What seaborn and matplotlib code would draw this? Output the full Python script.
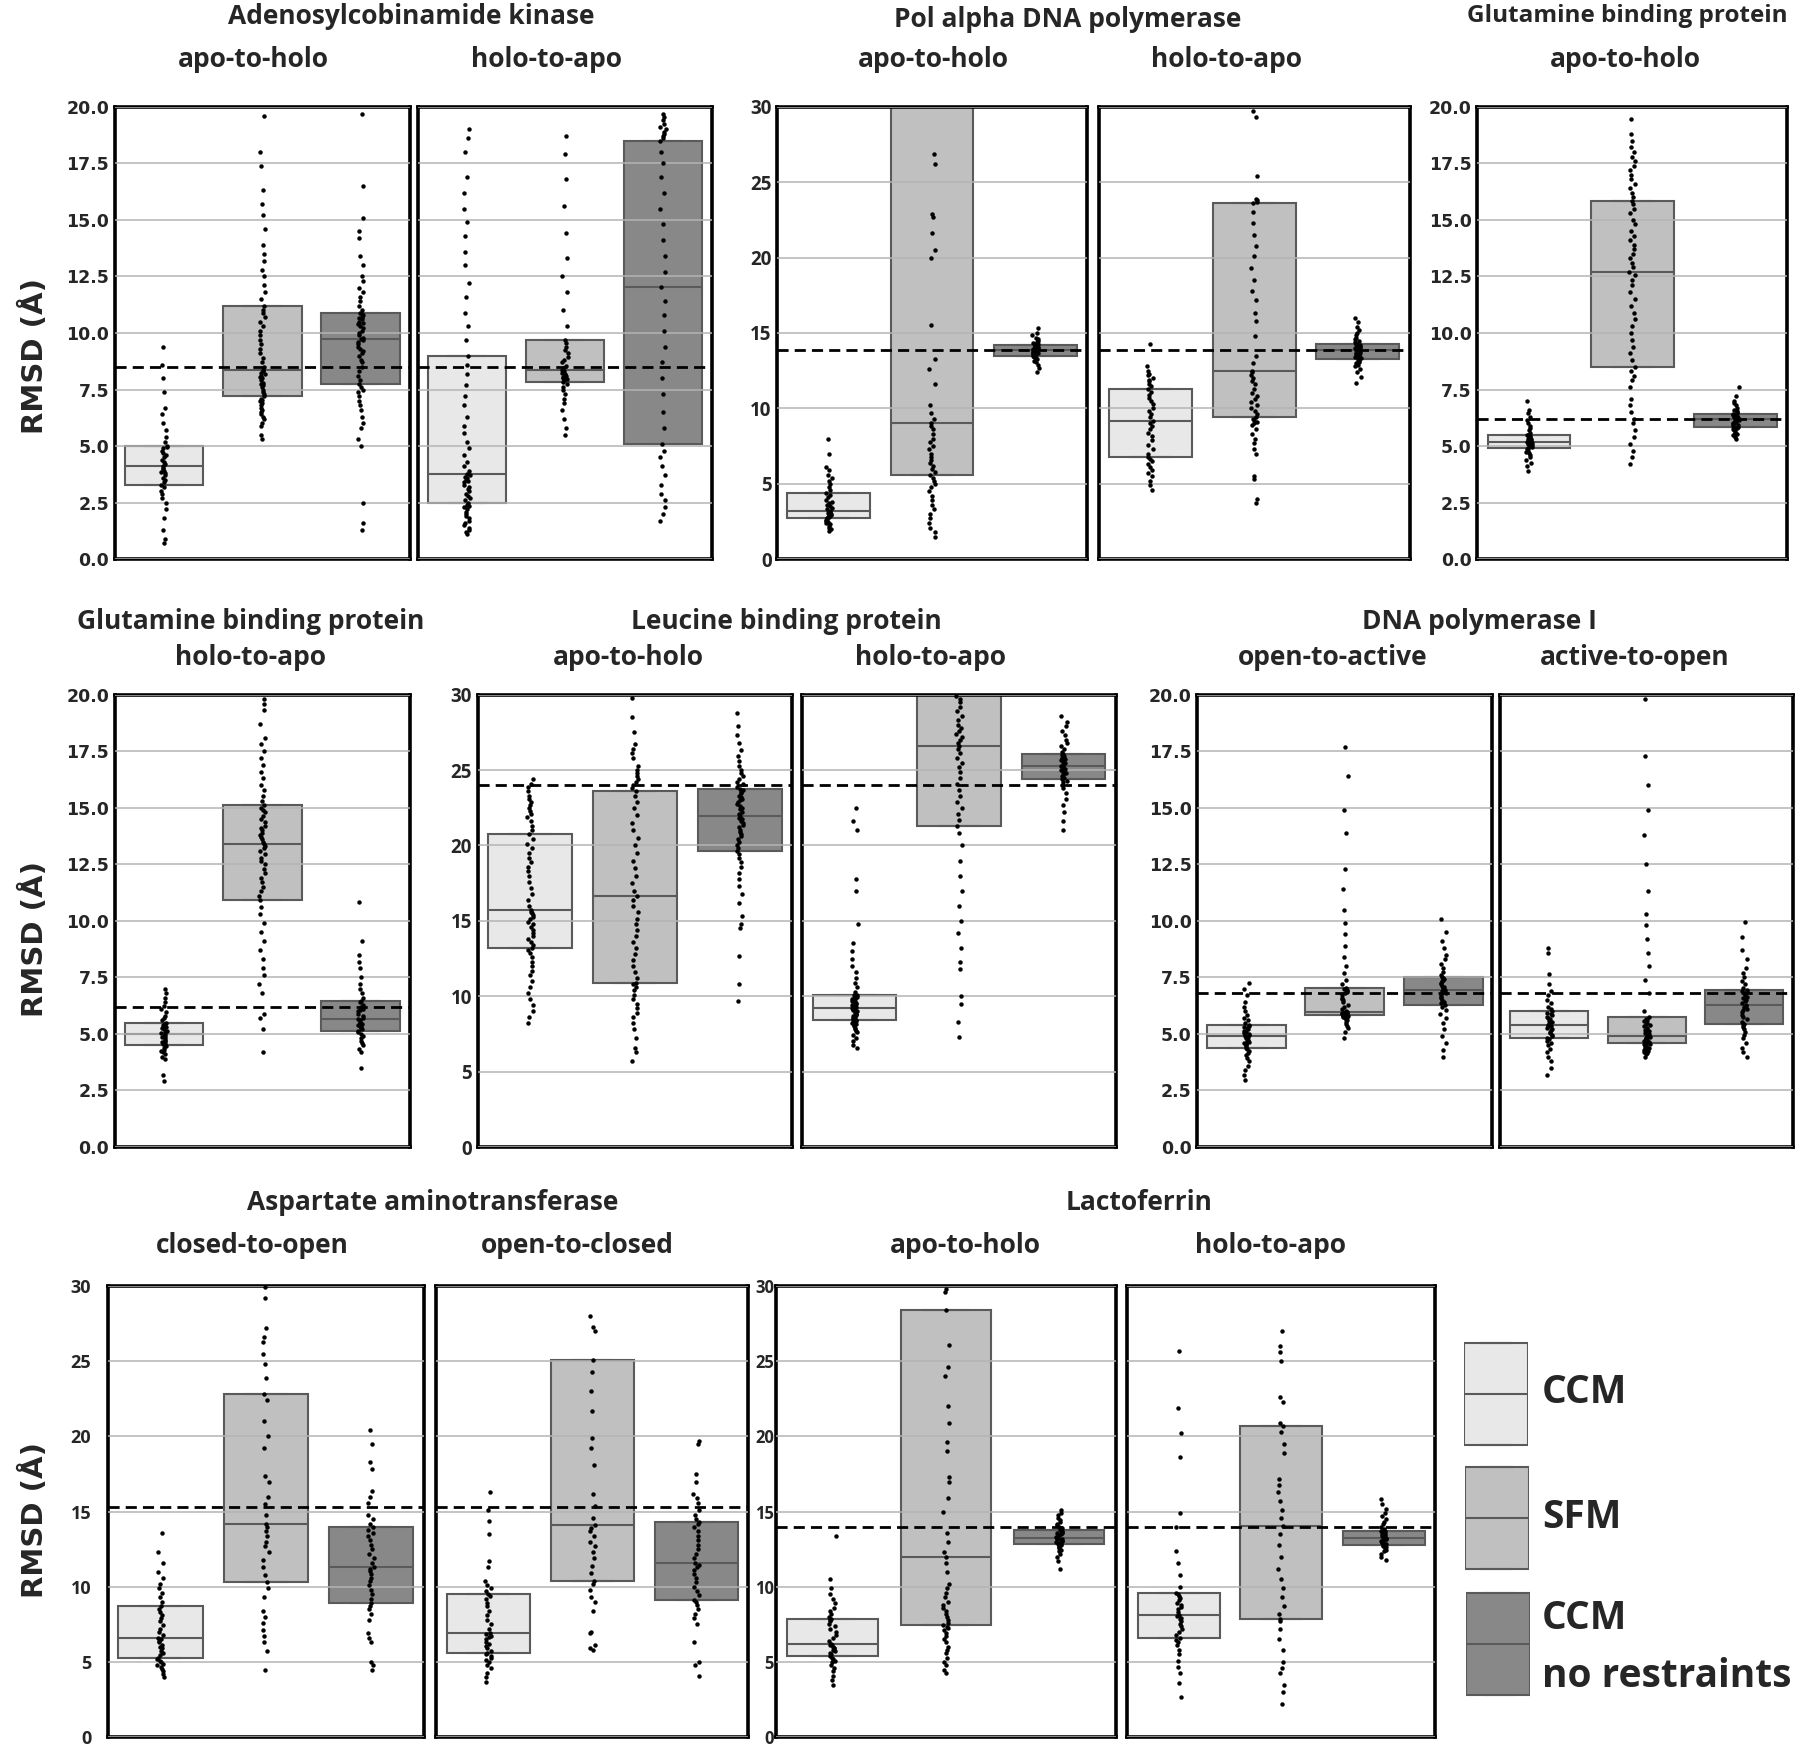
import numpy as np
import pandas as pd
import matplotlib
matplotlib.use("Agg")
import matplotlib.pyplot as plt
import seaborn as sns

# ---------------- DATA (RMSD in Angstrom) ----------------
# Adenosylcobinamide kinase, apo-to-holo
ak_ah_ccm = [0.7, 0.9, 1.3, 1.8, 2.2, 2.5, 2.7, 2.9, 3.0, 3.2, 3.3, 3.4, 3.5, 3.6, 3.7, 3.8, 3.85, 3.9, 4.0, 4.05,
             4.1, 4.2, 4.3, 4.4, 4.5, 4.6, 4.7, 4.8, 4.9, 4.95, 5.0, 5.2, 5.4, 5.7, 6.0, 6.4, 6.7, 7.4, 8.0, 8.6, 9.4]
ak_ah_sfm = [5.3, 5.5, 5.9, 6.0, 6.2, 6.3, 6.4, 6.5, 6.6, 6.7, 6.8, 6.9, 7.0, 7.05, 7.1, 7.2,
             7.3, 7.4, 7.5, 7.6, 7.7, 7.75, 7.8, 7.9, 8.0, 8.05, 8.1, 8.2, 8.25, 8.3, 8.35,
             8.5, 8.7, 8.9, 9.1, 9.3, 9.5, 9.7, 9.9, 10.1, 10.3, 10.5, 10.7, 10.9, 11.0, 11.2,
             11.5, 11.8, 12.1, 12.5, 12.8, 13.2, 13.5, 13.9, 14.6, 15.2, 15.7, 16.3, 17.4, 18.0, 19.6]
ak_ah_nr = [1.3, 1.6, 2.5, 5.0, 5.3, 5.8, 6.0, 6.3, 6.6, 6.8, 7.0, 7.2, 7.4, 7.5, 7.6, 7.75,
            7.9, 8.1, 8.3, 8.5, 8.7, 8.8, 9.0, 9.1, 9.2, 9.3, 9.4, 9.5, 9.6, 9.7, 9.75,
            9.8, 9.9, 10.0, 10.1, 10.2, 10.3, 10.4, 10.45, 10.5, 10.6, 10.65, 10.7, 10.8, 10.85, 10.9,
            11.0, 11.2, 11.4, 11.6, 11.8, 12.0, 12.3, 12.5, 13.0, 13.4, 14.2, 14.5, 15.1, 16.5, 19.7]
# Adenosylcobinamide kinase, holo-to-apo
ak_ha_ccm = [1.1, 1.2, 1.3, 1.4, 1.5, 1.6, 1.7, 1.8, 1.9, 2.0, 2.1, 2.2, 2.3, 2.35, 2.4, 2.5,
             2.6, 2.7, 2.8, 2.9, 3.0, 3.1, 3.2, 3.3, 3.4, 3.45, 3.5, 3.6, 3.65, 3.7, 3.75,
             3.9, 4.1, 4.3, 4.6, 4.9, 5.2, 5.6, 5.9, 6.3, 6.8, 7.2, 7.7, 8.2, 8.6, 9.0,
             9.7, 10.3, 10.9, 11.6, 12.2, 13.0, 13.6, 14.3, 14.9, 15.5, 16.2, 16.9, 18.0, 18.6, 19.0]
ak_ha_sfm = [5.5, 5.8, 6.2, 6.6, 6.9, 7.1, 7.3, 7.5, 7.6, 7.75, 7.85, 7.9, 7.95, 8.0, 8.05, 8.1, 8.15, 8.2, 8.25, 8.3,
             8.35, 8.45, 8.55, 8.7, 8.8, 8.95, 9.1, 9.25, 9.4, 9.55, 9.7, 10.3, 11.0, 11.8, 12.5, 13.3, 14.4, 15.6,
             16.8, 17.9, 18.7]
ak_ha_nr = [1.7, 2.0, 2.3, 2.6, 2.9, 3.3, 3.7, 4.1, 4.5, 4.8, 5.1, 5.8, 6.5, 7.3, 8.0, 8.7, 9.4, 10.1, 10.8, 11.4,
            12.05, 12.7, 13.4, 14.1, 14.8, 15.5, 16.2, 16.9, 17.5, 18.0, 18.5, 18.6, 18.7, 18.8, 18.9, 19.0, 19.1,
            19.25, 19.4, 19.55, 19.7]
# Pol alpha DNA polymerase, apo-to-holo
pa_ah_ccm = [1.9, 2.0, 2.1, 2.2, 2.3, 2.4, 2.45, 2.5, 2.55, 2.6, 2.7, 2.75, 2.8, 2.85, 2.9, 2.95, 3.0, 3.05, 3.1, 3.15,
             3.2, 3.3, 3.4, 3.5, 3.6, 3.7, 3.8, 3.9, 4.1, 4.25, 4.4, 4.6, 4.8, 5.0, 5.2, 5.4, 5.6, 5.9, 6.1, 7.0, 8.0]
pa_ah_sfm = [1.5, 1.8, 2.1, 2.4, 2.7, 3.0, 3.3, 3.6, 3.9, 4.2, 4.5, 4.8, 5.0, 5.2, 5.4, 5.6,
             5.8, 6.0, 6.2, 6.4, 6.6, 6.8, 7.0, 7.3, 7.5, 7.8, 8.0, 8.3, 8.6, 8.8, 9.0,
             9.3, 9.7, 10.2, 11.6, 12.6, 13.3, 15.5, 20.0, 20.5, 21.6, 22.7, 22.9, 26.2, 26.9, 32.0,
             32.5, 33.0, 33.5, 34.0, 34.5, 35.0, 35.5, 36.0, 36.5, 37.0, 37.5, 38.0, 38.5, 39.0, 40.0]
pa_ah_nr = [12.4, 12.7, 12.9, 13.05, 13.15, 13.25, 13.3, 13.35, 13.4, 13.45, 13.5, 13.55, 13.6, 13.63, 13.66, 13.7,
            13.75, 13.8, 13.83, 13.86, 13.9, 13.93, 13.96, 14.0, 14.03, 14.06, 14.1, 14.13, 14.16, 14.18, 14.2,
            14.25, 14.3, 14.35, 14.4, 14.5, 14.6, 14.7, 14.85, 15.0, 15.3]
# Pol alpha DNA polymerase, holo-to-apo
pa_ha_ccm = [4.6, 4.9, 5.2, 5.5, 5.7, 5.9, 6.1, 6.3, 6.5, 6.65, 6.8, 7.0, 7.3, 7.6, 7.9, 8.2, 8.4, 8.6, 8.8, 9.0,
             9.15, 9.4, 9.6, 9.8, 10.0, 10.3, 10.5, 10.7, 10.9, 11.1, 11.3, 11.5, 11.6, 11.8, 11.9, 12.0, 12.2,
             12.3, 12.5, 12.8, 14.3]
pa_ha_sfm = [3.7, 4.0, 5.3, 5.5, 7.0, 7.3, 7.7, 8.0, 8.3, 8.6, 8.9, 9.0, 9.1, 9.2, 9.3, 9.4,
             9.6, 9.8, 10.0, 10.2, 10.4, 10.6, 10.8, 11.0, 11.3, 11.6, 11.8, 12.0, 12.2, 12.4, 12.5,
             13.0, 13.5, 14.8, 15.8, 16.3, 17.2, 17.8, 18.5, 19.3, 20.1, 20.8, 21.5, 22.3, 23.0, 23.6,
             23.7, 23.8, 23.9, 25.4, 29.3, 29.7, 31.0, 32.0, 33.0, 34.0, 35.0, 36.0, 37.0, 38.0, 39.0]
pa_ha_nr = [11.7, 12.1, 12.4, 12.6, 12.8, 12.9, 13.0, 13.1, 13.15, 13.2, 13.3, 13.35, 13.4, 13.45, 13.5, 13.55,
            13.6, 13.65, 13.7, 13.78, 13.85, 13.9, 13.95, 14.0, 14.05, 14.1, 14.15, 14.2, 14.23, 14.27, 14.3,
            14.4, 14.5, 14.6, 14.7, 14.85, 15.0, 15.2, 15.4, 15.7, 16.0]
# Glutamine binding protein, apo-to-holo
gb_ah_ccm = [3.9, 4.1, 4.25, 4.4, 4.5, 4.6, 4.7, 4.75, 4.8, 4.85, 4.9, 4.93, 4.96, 5.0, 5.03, 5.06, 5.1, 5.13, 5.15,
             5.18, 5.2, 5.23, 5.26, 5.3, 5.33, 5.36, 5.4, 5.43, 5.46, 5.48, 5.5, 5.6, 5.7, 5.8, 5.9, 6.0, 6.15,
             6.3, 6.45, 6.6, 7.0]
gb_ah_sfm = [4.2, 4.5, 4.8, 5.1, 5.4, 5.7, 6.0, 6.2, 6.5, 6.8, 7.1, 7.6, 7.9, 8.1, 8.3, 8.5,
             8.8, 9.1, 9.4, 9.7, 10.0, 10.3, 10.6, 10.9, 11.2, 11.5, 11.8, 12.1, 12.35, 12.55, 12.7,
             12.9, 13.1, 13.3, 13.5, 13.7, 13.9, 14.1, 14.3, 14.5, 14.8, 15.0, 15.3, 15.5, 15.7, 15.85,
             16.0, 16.2, 16.4, 16.6, 16.8, 17.0, 17.2, 17.4, 17.6, 17.8, 18.0, 18.2, 18.5, 18.8, 19.45]
gb_ah_nr = [5.3, 5.4, 5.5, 5.55, 5.6, 5.65, 5.7, 5.75, 5.78, 5.82, 5.85, 5.9, 5.93, 5.96, 6.0, 6.03, 6.07, 6.1,
            6.13, 6.17, 6.2, 6.22, 6.24, 6.26, 6.28, 6.3, 6.32, 6.34, 6.36, 6.38, 6.4, 6.45, 6.5, 6.55, 6.6,
            6.7, 6.8, 6.9, 7.0, 7.2, 7.6]
# Glutamine binding protein, holo-to-apo
gb_ha_ccm = [2.9, 3.2, 3.9, 4.0, 4.1, 4.2, 4.25, 4.3, 4.4, 4.45, 4.5, 4.55, 4.6, 4.65, 4.7, 4.75, 4.8, 4.85, 4.9,
             4.93, 5.0, 5.05, 5.1, 5.15, 5.2, 5.25, 5.3, 5.35, 5.4, 5.45, 5.5, 5.6, 5.7, 5.8, 5.95, 6.1, 6.25,
             6.4, 6.6, 6.8, 7.0]
gb_ha_sfm = [4.2, 5.2, 5.7, 5.9, 6.8, 7.2, 7.6, 7.9, 8.3, 8.7, 9.1, 9.5, 9.9, 10.3, 10.6, 10.9,
             11.1, 11.3, 11.5, 11.7, 11.9, 12.1, 12.3, 12.5, 12.65, 12.8, 12.95, 13.1, 13.2, 13.3, 13.4,
             13.5, 13.6, 13.7, 13.8, 13.9, 14.0, 14.1, 14.2, 14.35, 14.5, 14.65, 14.8, 14.9, 15.0, 15.1,
             15.3, 15.5, 15.8, 16.0, 16.3, 16.6, 16.9, 17.2, 17.5, 17.8, 18.1, 18.7, 19.3, 19.6, 19.8]
gb_ha_nr = [3.5, 4.2, 4.35, 4.5, 4.6, 4.7, 4.8, 4.9, 5.0, 5.1, 5.15, 5.2, 5.25, 5.3, 5.35, 5.4, 5.45, 5.5, 5.55,
            5.6, 5.65, 5.7, 5.8, 5.9, 6.0, 6.05, 6.1, 6.2, 6.3, 6.4, 6.45, 6.6, 6.8, 7.0, 7.2, 7.5, 7.9, 8.2,
            8.5, 9.1, 10.85]
# Leucine binding protein, apo-to-holo
lb_ah_ccm = [8.2, 8.6, 9.0, 9.4, 9.8, 10.2, 10.6, 11.0, 11.4, 11.7, 12.0, 12.3, 12.6, 12.85, 13.05, 13.2,
             13.4, 13.6, 13.8, 14.0, 14.2, 14.4, 14.6, 14.8, 14.95, 15.1, 15.25, 15.4, 15.5, 15.6, 15.7,
             16.0, 16.4, 16.8, 17.2, 17.6, 18.0, 18.3, 18.6, 18.9, 19.2, 19.5, 19.8, 20.1, 20.4, 20.75,
             21.0, 21.3, 21.6, 21.9, 22.1, 22.3, 22.5, 22.7, 22.9, 23.1, 23.3, 23.6, 23.9, 24.1, 24.4]
lb_ah_sfm = [5.7, 6.3, 6.6, 7.2, 7.8, 8.2, 8.6, 8.9, 9.2, 9.5, 9.8, 10.1, 10.4, 10.6, 10.8, 10.9,
             11.2, 11.6, 12.0, 12.4, 12.8, 13.2, 13.6, 14.0, 14.4, 14.8, 15.1, 15.6, 16.0, 16.4, 16.65,
             17.0, 17.5, 18.0, 18.5, 19.0, 19.5, 20.0, 20.5, 21.0, 21.5, 22.0, 22.5, 22.9, 23.3, 23.6,
             23.8, 24.0, 24.2, 24.4, 24.6, 24.8, 25.0, 25.3, 25.8, 26.1, 26.4, 26.7, 27.5, 28.5, 29.8]
lb_ah_nr = [9.7, 10.8, 12.65, 14.5, 14.8, 15.3, 16.2, 16.8, 17.3, 17.8, 18.2, 18.6, 18.9, 19.2, 19.45, 19.65,
            19.85, 20.05, 20.25, 20.45, 20.6, 20.75, 20.9, 21.05, 21.2, 21.35, 21.5, 21.65, 21.75, 21.85, 21.95,
            22.1, 22.25, 22.4, 22.5, 22.6, 22.75, 22.9, 23.0, 23.1, 23.2, 23.3, 23.45, 23.55, 23.65, 23.75,
            23.9, 24.05, 24.2, 24.4, 24.6, 24.8, 25.0, 25.3, 25.6, 25.9, 26.3, 26.8, 27.3, 27.9, 28.8]
# Leucine binding protein, holo-to-apo
lb_ha_ccm = [6.6, 6.8, 7.0, 7.2, 7.4, 7.6, 7.7, 7.8, 7.9, 8.0, 8.1, 8.15, 8.2, 8.3, 8.35, 8.4,
             8.45, 8.5, 8.55, 8.6, 8.7, 8.75, 8.8, 8.85, 8.9, 9.0, 9.05, 9.1, 9.15, 9.2, 9.25,
             9.3, 9.35, 9.4, 9.5, 9.55, 9.6, 9.65, 9.7, 9.8, 9.85, 9.9, 9.95, 10.0, 10.05, 10.1,
             10.3, 10.6, 10.9, 11.2, 11.6, 12.0, 12.5, 13.0, 13.5, 14.8, 17.0, 17.8, 21.0, 21.6, 22.5]
lb_ha_sfm = [7.3, 8.3, 9.5, 10.0, 11.8, 12.3, 13.2, 14.2, 15.0, 16.0, 17.0, 18.0, 19.0, 20.0, 20.8, 21.3,
             21.7, 22.1, 22.5, 22.9, 23.3, 23.7, 24.1, 24.5, 24.9, 25.2, 25.5, 25.8, 26.1, 26.4, 26.6,
             26.8, 27.0, 27.2, 27.4, 27.6, 27.8, 28.0, 28.3, 28.6, 28.9, 29.2, 29.5, 29.7, 29.9, 31.0,
             31.5, 32.0, 32.5, 33.0, 33.5, 34.0, 34.5, 35.0, 35.5, 36.0, 36.5, 37.0, 37.5, 38.0, 39.0]
lb_ha_nr = [21.0, 21.6, 22.2, 22.7, 23.1, 23.5, 23.8, 24.0, 24.2, 24.3, 24.4, 24.5, 24.6, 24.7, 24.8, 24.9, 25.0,
            25.05, 25.1, 25.2, 25.25, 25.35, 25.45, 25.55, 25.65, 25.75, 25.8, 25.9, 25.95, 26.0, 26.05, 26.2,
            26.4, 26.6, 26.8, 27.0, 27.3, 27.6, 27.9, 28.2, 28.6]
# DNA polymerase I, open-to-active
dp_oa_ccm = [2.95, 3.2, 3.4, 3.6, 3.8, 3.95, 4.05, 4.15, 4.25, 4.33, 4.4, 4.45, 4.5, 4.55, 4.6, 4.65, 4.7, 4.75,
             4.8, 4.85, 4.9, 4.95, 5.0, 5.05, 5.1, 5.15, 5.2, 5.25, 5.3, 5.35, 5.4, 5.5, 5.6, 5.7, 5.85, 6.0,
             6.2, 6.4, 6.7, 7.0, 7.25]
dp_oa_sfm = [4.8, 5.1, 5.25, 5.35, 5.45, 5.55, 5.6, 5.65, 5.7, 5.73, 5.76, 5.78, 5.8, 5.82, 5.84, 5.85,
             5.86, 5.865, 5.87, 5.875, 5.88, 5.885, 5.89, 5.9, 5.905, 5.91, 5.92, 5.93, 5.94, 5.945, 5.95,
             6.0, 6.1, 6.2, 6.3, 6.4, 6.5, 6.55, 6.6, 6.7, 6.8, 6.85, 6.9, 6.95, 7.0, 7.05,
             7.2, 7.4, 7.7, 8.0, 8.4, 8.9, 9.4, 9.9, 10.5, 11.4, 12.3, 13.9, 14.9, 16.4, 17.7]
dp_oa_nr = [4.0, 4.3, 4.6, 4.9, 5.2, 5.5, 5.7, 5.9, 6.05, 6.17, 6.27, 6.35, 6.42, 6.5, 6.57, 6.65, 6.72, 6.8, 6.85,
            6.9, 6.96, 7.02, 7.08, 7.14, 7.2, 7.26, 7.32, 7.38, 7.42, 7.46, 7.5, 7.6, 7.75, 7.9, 8.1, 8.3, 8.5,
            8.8, 9.1, 9.5, 10.1]
# DNA polymerase I, active-to-open
dp_ao_ccm = [3.2, 3.5, 3.8, 4.0, 4.2, 4.35, 4.5, 4.6, 4.7, 4.77, 4.83, 4.9, 4.97, 5.03, 5.1, 5.16, 5.22, 5.28,
             5.33, 5.37, 5.4, 5.46, 5.52, 5.58, 5.64, 5.7, 5.76, 5.82, 5.88, 5.94, 6.0, 6.1, 6.2, 6.35, 6.5,
             6.7, 6.9, 7.2, 7.67, 8.6, 8.8]
dp_ao_sfm = [4.0, 4.1, 4.15, 4.2, 4.25, 4.3, 4.35, 4.38, 4.41, 4.44, 4.47, 4.5, 4.52, 4.54, 4.56, 4.58,
             4.61, 4.63, 4.65, 4.67, 4.7, 4.72, 4.74, 4.77, 4.79, 4.81, 4.84, 4.86, 4.88, 4.9, 4.93,
             4.98, 5.03, 5.08, 5.13, 5.18, 5.23, 5.28, 5.33, 5.38, 5.44, 5.5, 5.56, 5.62, 5.68, 5.75,
             6.0, 6.8, 7.4, 8.0, 8.6, 9.2, 9.8, 10.3, 11.3, 12.5, 13.8, 14.9, 16.0, 17.3, 19.8]
dp_ao_nr = [4.0, 4.2, 4.4, 4.6, 4.8, 4.95, 5.1, 5.2, 5.3, 5.38, 5.46, 5.55, 5.65, 5.75, 5.85, 5.95, 6.05, 6.12,
            6.19, 6.25, 6.3, 6.37, 6.44, 6.51, 6.58, 6.65, 6.72, 6.79, 6.85, 6.9, 6.94, 7.05, 7.2, 7.35, 7.5,
            7.7, 7.9, 8.3, 8.7, 9.3, 9.94]
# Aspartate aminotransferase, closed-to-open
aa_co_ccm = [4.0, 4.2, 4.4, 4.55, 4.7, 4.8, 4.9, 5.0, 5.1, 5.2, 5.3, 5.45, 5.6, 5.75, 5.9, 6.0, 6.15, 6.3, 6.4,
             6.5, 6.6, 6.8, 7.0, 7.2, 7.45, 7.7, 7.9, 8.1, 8.35, 8.55, 8.75, 9.0, 9.3, 9.6, 9.9, 10.2, 10.6,
             11.0, 11.6, 12.3, 13.6]
aa_co_sfm = [4.5, 5.7, 6.3, 6.7, 7.1, 7.6, 8.0, 8.4, 9.3, 9.9, 10.3, 10.8, 11.3, 11.8, 12.3, 12.7, 13.0, 13.4,
             13.7, 14.0, 14.2, 14.8, 15.5, 16.0, 17.0, 17.4, 19.2, 20.0, 21.0, 22.4, 22.8, 23.9, 24.8, 25.5,
             26.3, 26.6, 27.2, 29.2, 29.9, 31.0, 33.0]
aa_co_nr = [4.45, 4.8, 5.0, 6.3, 6.6, 6.9, 7.8, 8.2, 8.5, 8.7, 8.9, 9.2, 9.5, 9.8, 10.1, 10.4, 10.6, 10.85,
            11.05, 11.2, 11.35, 11.6, 11.9, 12.2, 12.5, 12.8, 13.1, 13.4, 13.6, 13.8, 13.95, 14.2, 14.5, 14.8,
            15.6, 16.0, 16.4, 17.8, 18.3, 19.5, 20.4]
# Aspartate aminotransferase, open-to-closed
aa_oc_ccm = [3.7, 4.0, 4.3, 4.6, 4.8, 5.0, 5.15, 5.3, 5.4, 5.5, 5.6, 5.75, 5.9, 6.05, 6.2, 6.35, 6.5, 6.65,
             6.75, 6.85, 6.95, 7.2, 7.5, 7.8, 8.1, 8.4, 8.7, 8.95, 9.2, 9.4, 9.5, 9.7, 9.9, 10.1, 10.4, 11.3,
             11.7, 13.5, 14.4, 15.1, 16.3]
aa_oc_sfm = [5.8, 5.9, 6.1, 6.9, 7.0, 8.4, 9.0, 9.3, 9.8, 10.2, 10.4, 10.9, 11.4, 11.9, 12.3, 12.7, 13.0, 13.4,
             13.7, 13.9, 14.1, 14.6, 15.4, 16.2, 18.1, 19.2, 19.9, 21.7, 23.0, 24.3, 25.1, 27.0, 27.3, 28.0,
             31.0, 32.0, 33.0, 34.0, 35.0, 36.0, 37.0]
aa_oc_nr = [4.1, 4.8, 5.0, 6.3, 7.5, 7.9, 8.2, 8.5, 8.8, 9.0, 9.15, 9.45, 9.75, 10.0, 10.3, 10.6, 10.85, 11.1,
            11.3, 11.45, 11.6, 11.9, 12.2, 12.5, 12.8, 13.1, 13.4, 13.7, 13.95, 14.15, 14.3, 14.5, 14.8, 15.1,
            15.6, 15.9, 16.2, 17.0, 17.5, 19.5, 19.7]
# Lactoferrin, apo-to-holo
lf_ah_ccm = [3.5, 3.8, 4.1, 4.4, 4.6, 4.8, 5.0, 5.1, 5.2, 5.3, 5.4, 5.5, 5.6, 5.7, 5.8, 5.9, 5.95, 6.0, 6.1,
             6.15, 6.2, 6.4, 6.6, 6.8, 7.0, 7.2, 7.4, 7.55, 7.7, 7.8, 7.86, 8.0, 8.2, 8.4, 8.6, 8.9, 9.2, 9.5,
             9.9, 10.5, 13.4]
lf_ah_sfm = [4.3, 4.5, 4.8, 5.0, 5.3, 5.6, 5.8, 6.0, 6.3, 6.5, 6.7, 6.9, 7.1, 7.25, 7.35, 7.45,
             7.6, 7.8, 8.0, 8.2, 8.4, 8.6, 8.8, 9.0, 9.3, 9.6, 9.9, 10.2, 11.0, 11.6, 11.95,
             12.3, 13.0, 13.6, 15.0, 15.9, 17.0, 17.3, 19.0, 19.6, 20.9, 22.0, 24.0, 24.6, 26.1, 28.4,
             29.6, 29.8, 31.0, 32.0, 33.0, 34.0, 35.0, 36.0, 37.0, 38.0, 39.0, 40.0, 41.0, 42.0, 43.0]
lf_ah_nr = [11.2, 11.7, 12.0, 12.2, 12.35, 12.45, 12.55, 12.65, 12.72, 12.78, 12.82, 12.87, 12.92, 12.97, 13.02,
            13.07, 13.11, 13.15, 13.19, 13.22, 13.25, 13.31, 13.37, 13.43, 13.49, 13.55, 13.61, 13.67, 13.72,
            13.76, 13.8, 13.9, 14.0, 14.1, 14.2, 14.3, 14.45, 14.6, 14.75, 14.9, 15.1]
# Lactoferrin, holo-to-apo
lf_ha_ccm = [2.7, 3.6, 4.3, 4.7, 5.1, 5.5, 5.8, 6.1, 6.3, 6.45, 6.6, 6.8, 7.0, 7.2, 7.4, 7.55, 7.7, 7.85, 7.95,
             8.05, 8.1, 8.3, 8.5, 8.65, 8.8, 8.95, 9.1, 9.25, 9.4, 9.5, 9.56, 10.0, 10.8, 11.6, 12.4, 14.0,
             14.9, 18.6, 20.2, 21.9, 25.7]
lf_ha_sfm = [2.2, 3.0, 3.5, 4.3, 4.6, 5.0, 5.8, 6.5, 7.2, 7.7, 7.86, 8.2, 8.7, 9.3, 9.9, 10.5, 11.2, 12.0, 12.8,
             13.5, 14.05, 14.6, 15.1, 15.7, 16.3, 16.8, 17.2, 18.9, 19.5, 20.3, 20.7, 20.9, 22.3, 22.6, 25.0,
             25.6, 26.0, 27.0, 31.0, 33.0, 35.0]
lf_ha_nr = [11.75, 12.0, 12.2, 12.35, 12.45, 12.55, 12.62, 12.68, 12.72, 12.75, 12.77, 12.82, 12.87, 12.92, 12.97,
            13.02, 13.07, 13.12, 13.17, 13.21, 13.25, 13.3, 13.35, 13.4, 13.45, 13.5, 13.55, 13.6, 13.65, 13.7,
            13.74, 13.85, 14.0, 14.15, 14.3, 14.5, 14.7, 14.9, 15.2, 15.5, 15.87]

# reference (dashed) RMSD for each protein pair
ref_adenosyl = 8.5
ref_polalpha = 13.9
ref_glutamine = 6.2
ref_leucine = 24.0
ref_dnapol = 6.8
ref_aspartate = 15.3
ref_lacto = 14.0

methods = ["CCM", "SFM", "CCM\nno restraints"]
group_titles = ["Adenosylcobinamide kinase", "Pol alpha DNA polymerase", "Glutamine binding protein",
                "Glutamine binding protein", "Leucine binding protein", "DNA polymerase I",
                "Aspartate aminotransferase", "Lactoferrin"]

# ---------------- STYLE / LAYOUT ----------------
sns.set_style("white")
plt.rcParams["font.family"] = ["Open Sans", "DejaVu Sans"]

palette = {"CCM": "#e8e8e8", "SFM": "#c0c0c0", "CCM\nno restraints": "#888888"}
edge = "#5a5a5a"
np.random.seed(3)

W, H = 1568.0, 1525.0
fig = plt.figure(figsize=(18, 17.51), dpi=100)


def rect(x0, x1, y0, y1):
    return [x0 / W, 1 - y1 / H, (x1 - x0) / W, (y1 - y0) / H]


# (data, ymax, ref, show tick labels, layout rect, subtitle, subtitle position, tick-label pad, tick size)
panels = [
    ((ak_ah_ccm, ak_ah_sfm, ak_ah_nr), 20, ref_adenosyl, True, (100, 357, 93, 487), "apo-to-holo", (221, 52), 4, 12.5),
    ((ak_ha_ccm, ak_ha_sfm, ak_ha_nr), 20, ref_adenosyl, False, (364, 620, 93, 487), "holo-to-apo", (476, 52), 4, 12.5),
    ((pa_ah_ccm, pa_ah_sfm, pa_ah_nr), 30, ref_polalpha, True, (677, 947, 93, 487), "apo-to-holo", (813, 52), 4, 13.5),
    ((pa_ha_ccm, pa_ha_sfm, pa_ha_nr), 30, ref_polalpha, False, (957, 1228, 93, 487), "holo-to-apo", (1068, 52), 4, 13.5),
    ((gb_ah_ccm, gb_ah_sfm, gb_ah_nr), 20, ref_glutamine, True, (1287, 1557, 93, 487), "apo-to-holo", (1416, 52), 4, 12.5),
    ((gb_ha_ccm, gb_ha_sfm, gb_ha_nr), 20, ref_glutamine, True, (100, 357, 605, 999), "holo-to-apo", (218, 573), 4, 12.5),
    ((lb_ah_ccm, lb_ah_sfm, lb_ah_nr), 30, ref_leucine, True, (416, 690, 605, 999), "apo-to-holo", (547, 573), 4, 13.5),
    ((lb_ha_ccm, lb_ha_sfm, lb_ha_nr), 30, ref_leucine, False, (699, 972, 605, 999), "holo-to-apo", (811, 573), 4, 13.5),
    ((dp_oa_ccm, dp_oa_sfm, dp_oa_nr), 20, ref_dnapol, True, (1043, 1300, 605, 999), "open-to-active", (1161, 573), 4, 12.5),
    ((dp_ao_ccm, dp_ao_sfm, dp_ao_nr), 20, ref_dnapol, False, (1307, 1562, 605, 999), "active-to-open", (1424, 573), 4, 12.5),
    ((aa_co_ccm, aa_co_sfm, aa_co_nr), 30, ref_aspartate, True, (94, 369, 1120, 1513), "closed-to-open", (220, 1085), 12, 13),
    ((aa_oc_ccm, aa_oc_sfm, aa_oc_nr), 30, ref_aspartate, False, (380, 652, 1120, 1513), "open-to-closed", (503, 1085), 4, 13),
    ((lf_ah_ccm, lf_ah_sfm, lf_ah_nr), 30, ref_lacto, True, (676, 972, 1120, 1513), "apo-to-holo", (841, 1085), 1.5, 12),
    ((lf_ha_ccm, lf_ha_sfm, lf_ha_nr), 30, ref_lacto, False, (982, 1250, 1120, 1513), "holo-to-apo", (1107, 1085), 4, 13),
]
title_pos = [(358, 14), (930, 17), (1418, 14), (218, 541), (685, 541), (1289, 541), (377, 1047), (992, 1047)]
title_size = [19, 19, 17.5, 19, 19, 19, 19, 19]
ylabel_pos = [(30, 310), (30, 818), (30, 1324)]

for (ccm, sfm, nr), ymax, ref, show, r, sub, spos, pad, tsize in panels:
    ax = fig.add_axes(rect(*r))
    df = pd.DataFrame({"method": [methods[0]] * len(ccm) + [methods[1]] * len(sfm) + [methods[2]] * len(nr),
                       "rmsd": list(ccm) + list(sfm) + list(nr)})
    sns.boxplot(data=df, x="method", y="rmsd", hue="method", order=methods, hue_order=methods,
                palette=palette, width=0.8, whis=0, showfliers=False, linecolor=edge, linewidth=1.5,
                saturation=1, legend=False, ax=ax)
    sns.stripplot(data=df, x="method", y="rmsd", order=methods, color="black", size=3.2, jitter=0.03,
                  linewidth=0, ax=ax, zorder=3)
    ax.set_xlim(-0.5, 2.5)
    ax.set_ylim(0, ymax)
    if ymax == 20:
        ticks = np.arange(0, 20.01, 2.5)
        labels = [f"{t:.1f}" for t in ticks]
        tfont = dict(family="DejaVu Sans", weight="bold", size=tsize)
    else:
        ticks = np.arange(0, 30.01, 5)
        labels = [f"{int(t)}" for t in ticks]
        tfont = dict(family="Open Sans", weight="bold", size=tsize)
    ax.set_yticks(ticks)
    if show:
        ax.set_yticklabels(labels, fontdict=tfont)
    else:
        ax.set_yticklabels([])
    ax.set_xticks([])
    ax.set_xlabel("")
    ax.set_ylabel("")
    ax.tick_params(axis="y", length=0, pad=pad)
    ax.set_axisbelow(False)
    ax.yaxis.grid(True, color="#b4b4b4", linewidth=1.1)
    ax.xaxis.grid(False)
    ax.axhline(ref, color="black", linestyle=(0, (4, 2.2)), linewidth=2.0, zorder=4)
    for sp in ax.spines.values():
        sp.set_visible(True)
        sp.set_color("black")
        sp.set_linewidth(2.6)
    fig.text(spos[0] / W, 1 - spos[1] / H, sub, ha="center", va="center", fontsize=19, fontweight="bold")

for t, (x, y), s in zip(group_titles, title_pos, title_size):
    fig.text(x / W, 1 - y / H, t, ha="center", va="center", fontsize=s, fontweight="bold")

for x, y in ylabel_pos:
    fig.text(x / W, 1 - y / H, "RMSD (Å)", rotation=90, ha="center", va="center", fontsize=21,
             fontweight="bold", family="DejaVu Sans")

# ---------------- LEGEND (three single boxes) ----------------
legend_rects = [(1275, 1331, 1168, 1260), (1276, 1332, 1276, 1368), (1277, 1333, 1386, 1478)]
legend_dummy = [0, 1, 2, 3, 4]
for m, r in zip(methods, legend_rects):
    lax = fig.add_axes(rect(*r))
    sns.boxplot(y=legend_dummy, color=palette[m], width=0.8, whis=0, showfliers=False, linecolor=edge,
                linewidth=1.5, saturation=1, ax=lax)
    lax.set_xlim(-0.4, 0.4)
    lax.set_ylim(0.97, 3.03)
    lax.axis("off")

fig.text(1343 / W, 1 - 1213 / H, "CCM", ha="left", va="center", fontsize=28, fontweight="bold")
fig.text(1343 / W, 1 - 1322 / H, "SFM", ha="left", va="center", fontsize=28, fontweight="bold")
fig.text(1343 / W, 1 - 1410 / H, "CCM", ha="left", va="center", fontsize=28, fontweight="bold")
fig.text(1343 / W, 1 - 1460 / H, "no restraints", ha="left", va="center", fontsize=28, fontweight="bold")

fig.savefig("out.png", dpi=100, facecolor="white")
